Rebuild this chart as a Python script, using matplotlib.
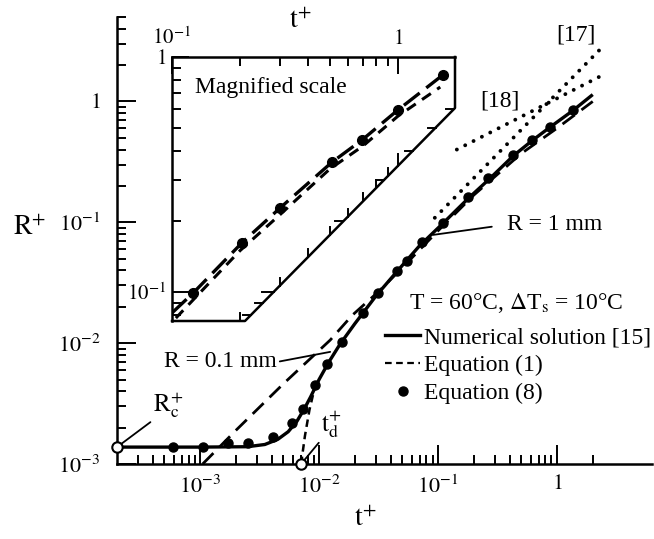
import numpy as np
import matplotlib
matplotlib.use('Agg')
import matplotlib.pyplot as plt
from matplotlib.lines import Line2D
from matplotlib.patches import Polygon
from matplotlib.ticker import FixedLocator, FixedFormatter, NullFormatter

plt.rcParams['font.family'] = ['Liberation Serif', 'DejaVu Serif']
plt.rcParams['mathtext.fontset'] = 'stix'

# ---- main plot data ----
# numerical solution [15]
num_t = [2e-4, 1e-3, 2.5e-3, 3.5e-3, 4.5e-3, 5.5e-3, 6.5e-3, 7.5e-3, 8.5e-3, 1e-2,
         1.2e-2, 1.5e-2, 2e-2, 3e-2, 4.5e-2, 7e-2, 0.11, 0.18, 0.27, 0.43, 0.62, 0.87, 1.36, 2.0]
num_R = [1.38e-3, 1.38e-3, 1.39e-3, 1.45e-3, 1.6e-3, 1.85e-3, 2.25e-3, 2.85e-3, 3.6e-3, 5.0e-3,
         6.9e-3, 9.8e-3, 1.45e-2, 2.45e-2, 3.9e-2, 6.4e-2, 0.098, 0.158, 0.228, 0.355, 0.475, 0.61, 0.84, 1.14]

# equation (1)
eq1_t = [1.05e-3, 2e-3, 5e-3, 1.24e-2, 1.9e-2, 3.2e-2, 5e-2, 0.1, 0.2, 0.5, 1.0, 2.0]
eq1_R = [1.0e-3, 1.9e-3, 4.6e-3, 1.06e-2, 1.7e-2, 2.7e-2, 4.2e-2, 0.085, 0.168, 0.37, 0.6, 1.0]

# equation (8)
eq8_t = [5.9e-4, 1.06e-3, 1.72e-3, 2.53e-3, 4.1e-3, 5.9e-3, 7.3e-3, 9.25e-3, 1.17e-2, 1.56e-2,
         2.34e-2, 3.13e-2, 4.52e-2, 5.48e-2, 7.3e-2, 0.11, 0.179, 0.263, 0.427, 0.616, 0.873, 1.36]
eq8_R = [1.38e-3, 1.38e-3, 1.49e-3, 1.49e-3, 1.67e-3, 2.19e-3, 2.86e-3, 4.5e-3, 6.7e-3, 1.03e-2,
         1.78e-2, 2.61e-2, 3.97e-2, 4.8e-2, 6.9e-2, 0.099, 0.163, 0.234, 0.363, 0.483, 0.62, 0.857]

# branch starting at t_d+
td_t = [7.06e-3, 7.6e-3, 8.3e-3, 9.3e-3]
td_R = [1.0e-3, 1.7e-3, 2.8e-3, 4.5e-3]

# asymptotes from refs [17] and [18]
ref17_t = [0.094, 2.3]
ref17_R = [0.109, 2.69]
ref18_t = [0.144, 2.3]
ref18_R = [0.40, 1.61]

Rc = 1.38e-3
td = 7.06e-3

# ---- inset (magnified scale) ----
ins_num_t = [0.1, 0.124, 0.204, 0.301, 0.511, 0.693, 1.0, 1.58]
ins_num_R = [0.0815, 0.099, 0.162, 0.228, 0.357, 0.443, 0.595, 0.838]
ins_eq1_t = [0.104, 0.2, 0.3, 0.5, 0.7, 1.0, 1.54]
ins_eq1_R = [0.0775, 0.150, 0.213, 0.334, 0.418, 0.56, 0.745]
ins_eq8_t = [0.124, 0.204, 0.301, 0.511, 0.693, 1.0, 1.58]
ins_eq8_R = [0.099, 0.162, 0.228, 0.357, 0.443, 0.595, 0.838]

W, H = 654, 539
fig = plt.figure(figsize=(W / 100, H / 100), dpi=100)


def px_axes(x0, y0, x1, y1):
    return fig.add_axes([x0 / W, 1 - y1 / H, (x1 - x0) / W, (y1 - y0) / H])


def sci(v):
    if v == 1:
        return r'$1$'
    return r'$10^{%d}$' % round(np.log10(v))


# ---------------- main axes ----------------
ax = px_axes(117, 17, 652, 464)
ax.set_xscale('log')
ax.set_yscale('log')
ax.set_xlim(2e-4, 6.3)
ax.set_ylim(1e-3, 5)
for s in ['top', 'right']:
    ax.spines[s].set_visible(False)
for s in ['left', 'bottom']:
    ax.spines[s].set_linewidth(1.8)

xmaj = [1e-3, 1e-2, 1e-1, 1]
xmin_ = [k * 1e-4 for k in range(3, 10)] + [k * 10.0 ** e for e in (-3, -2, -1) for k in range(2, 10)] + [2]
ymaj = [1e-3, 1e-2, 1e-1, 1]
ymin_ = [k * 10.0 ** e for e in (-3, -2, -1) for k in range(2, 10)] + [2, 3, 4, 5]
ax.xaxis.set_major_locator(FixedLocator(xmaj))
ax.xaxis.set_major_formatter(FixedFormatter([sci(v) for v in xmaj]))
ax.xaxis.set_minor_locator(FixedLocator(xmin_))
ax.xaxis.set_minor_formatter(NullFormatter())
ax.yaxis.set_major_locator(FixedLocator(ymaj))
ax.yaxis.set_major_formatter(FixedFormatter([sci(v) for v in ymaj]))
ax.yaxis.set_minor_locator(FixedLocator(ymin_))
ax.yaxis.set_minor_formatter(NullFormatter())
ax.tick_params(which='both', direction='in', width=1.4, top=False, right=False, labelsize=16)
ax.tick_params(which='major', length=14)
ax.tick_params(which='minor', length=6.5)
ax.tick_params(axis='x', pad=8)
ax.tick_params(axis='y', pad=12)

ax.plot(num_t, num_R, color='k', lw=2.4, solid_capstyle='butt', zorder=3)
ax.plot(eq1_t, eq1_R, color='k', lw=2.0, ls=(0, (5.5, 3)), zorder=3)
ax.plot(eq8_t, eq8_R, 'o', color='k', ms=6.5, zorder=4)
ax.plot(td_t, td_R, color='k', lw=1.8, ls=(0, (3, 2)), zorder=3)
ax.plot(ref17_t, ref17_R, color='k', lw=2.8, ls=(0, (0.01, 2.4)), dash_capstyle='round', zorder=3)
ax.plot(ref18_t, ref18_R, color='k', lw=2.8, ls=(0, (0.01, 2.4)), dash_capstyle='round', zorder=3)

ax.plot([2e-4], [Rc], 'o', mfc='white', mec='k', ms=7.5, mew=1.5, clip_on=False, zorder=6)
ax.plot([td], [1e-3], 'o', mfc='white', mec='k', ms=7.5, mew=1.5, clip_on=False, zorder=6)

arrow = dict(arrowstyle='-', lw=1.3, color='k', shrinkA=0, shrinkB=4)
ax.annotate(r'$\mathrm{R}_{\mathrm{c}}^{+}$', xy=(2e-4, Rc), xytext=(4.03e-4, 2.31e-3),
            ha='left', va='bottom', fontsize=18, arrowprops=dict(arrow, relpos=(0, 0)))
ax.annotate(r'$\mathrm{t}_{\mathrm{d}}^{+}$', xy=(td, 1e-3), xytext=(1.04e-2, 1.58e-3),
            ha='left', va='bottom', fontsize=18, arrowprops=dict(arrow, relpos=(0, 0)))
ax.annotate('R = 0.1 mm', xy=(1.24e-2, 8.47e-3), xytext=(4.43e-3, 6.99e-3),
            ha='right', va='center', fontsize=17,
            arrowprops=dict(arrowstyle='-', lw=1.3, color='k', shrinkA=0, shrinkB=0, relpos=(1, 0.5)))
ax.annotate('R = 1 mm', xy=(0.0909, 0.0787), xytext=(0.38, 0.0957),
            ha='left', va='center', fontsize=17,
            arrowprops=dict(arrowstyle='-', lw=1.3, color='k', shrinkA=9, shrinkB=0, relpos=(0, 0.5)))
ax.text(1.45, 3.58, '[17]', ha='center', va='center', fontsize=17)
ax.text(0.332, 1.017, '[18]', ha='center', va='center', fontsize=17)

ax.set_xlabel(r'$\mathrm{t}^{+}$', fontsize=20, ha='center', va='center')
ax.xaxis.set_label_coords(0.4636, -0.125)
ax.set_ylabel(r'$\mathrm{R}^{+}$', fontsize=20, rotation=0, ha='center', va='center')
ax.yaxis.set_label_coords(-0.163, 0.528)

# legend
fig.text(516 / W, 1 - 303 / H, r'T = 60°C, $\Delta$T$_{\mathrm{s}}$ = 10°C',
         ha='center', va='center', fontsize=17)
h_num = Line2D([], [], color='k', lw=2.4)
h_eq1 = Line2D([], [], color='k', lw=1.6, ls=(0, (3, 2)))
h_eq8 = Line2D([], [], color='k', ls='none', marker='o', ms=6.5)
ax.legend([h_num, h_eq1, h_eq8], ['Numerical solution [15]', 'Equation (1)', 'Equation (8)'],
          loc='upper left', bbox_to_anchor=(385 / W, 1 - 327 / H), bbox_transform=fig.transFigure,
          frameon=False, fontsize=17, handlelength=1.5,
          handletextpad=0.15, labelspacing=0.26, borderpad=0, borderaxespad=0, numpoints=1)

# ---------------- inset ----------------
ix0, iy0, ix1, iy1 = 172, 57, 455, 321
ins = px_axes(ix0, iy0, ix1, iy1)
ins.set_xscale('log')
ins.set_yscale('log')
ins.set_xlim(0.1, 1.79)
ins.set_ylim(0.0753, 1.0)
ins.patch.set_visible(False)
ins.spines['bottom'].set_visible(False)
ins.spines['right'].set_visible(False)
for s in ['left', 'top']:
    ins.spines[s].set_linewidth(1.8)
ins.xaxis.tick_top()
ins.xaxis.set_label_position('top')

ixmaj = [0.1, 1]
ixmin = [k * 0.1 for k in range(2, 10)]
iymaj = [0.1, 1]
iymin = [0.08, 0.09] + [k * 0.1 for k in range(2, 10)]
ins.xaxis.set_major_locator(FixedLocator(ixmaj))
ins.xaxis.set_major_formatter(FixedFormatter([sci(v) for v in ixmaj]))
ins.xaxis.set_minor_locator(FixedLocator(ixmin))
ins.xaxis.set_minor_formatter(NullFormatter())
ins.yaxis.set_major_locator(FixedLocator(iymaj))
ins.yaxis.set_major_formatter(FixedFormatter([sci(v) for v in iymaj]))
ins.yaxis.set_minor_locator(FixedLocator(iymin))
ins.yaxis.set_minor_formatter(NullFormatter())
ins.tick_params(which='both', direction='in', width=1.4, labelsize=15,
                top=True, bottom=False, right=False, left=True)
ins.tick_params(which='major', length=12)
ins.tick_params(which='minor', length=6.5)
ins.tick_params(axis='x', pad=6)
ins.tick_params(axis='y', pad=4)
ins.set_xlabel(r'$\mathrm{t}^{+}$', fontsize=20, ha='center', va='center')
ins.xaxis.set_label_coords(0.452, 1.133)

iw, ih = ix1 - ix0, iy1 - iy0
xb = (245 - ix0) / iw
yr = (iy1 - 108) / ih
ins.add_line(Line2D([1, 1, xb, 0], [1, yr, 0, 0], transform=ins.transAxes,
                    color='k', lw=1.8, clip_on=False))
clip = Polygon([(0, 0), (xb, 0), (1, yr), (1, 1), (0, 1)], closed=True,
               transform=ins.transAxes, fc='none', ec='none')
ins.add_patch(clip)

to_axes = ins.transAxes.inverted()
for v in ixmin + [1.0]:
    axx = to_axes.transform(ins.transData.transform((v, 0.5)))[0]
    base = 0 if axx <= xb else (axx - xb) / (1 - xb) * yr
    L = (12 if v == 1.0 else 8) / ih
    ins.add_line(Line2D([axx, axx], [base, base + L], transform=ins.transAxes,
                        color='k', lw=1.4, clip_on=False))
for v in [0.08, 0.09, 0.1] + [k * 0.1 for k in range(2, 7)]:
    axy = to_axes.transform(ins.transData.transform((0.5, v)))[1]
    if axy > yr:
        continue
    base = xb + axy / yr * (1 - xb)
    L = (12 if v == 0.1 else 8) / iw
    ins.add_line(Line2D([base - L, base], [axy, axy], transform=ins.transAxes,
                        color='k', lw=1.4, clip_on=False))

l1, = ins.plot(ins_num_t, ins_num_R, color='k', lw=2.4, ls=(0, (6, 2.5)))
l2, = ins.plot(ins_eq1_t, ins_eq1_R, color='k', lw=2.2, ls=(0, (3.5, 2.5)))
l3, = ins.plot(ins_eq8_t, ins_eq8_R, 'o', color='k', ms=7)
for l in (l1, l2, l3):
    l.set_clip_path(clip)

ins.text(0.081, 0.883, 'Magnified scale', transform=ins.transAxes,
         ha='left', va='center', fontsize=17)

fig.savefig('out.png', dpi=100)
